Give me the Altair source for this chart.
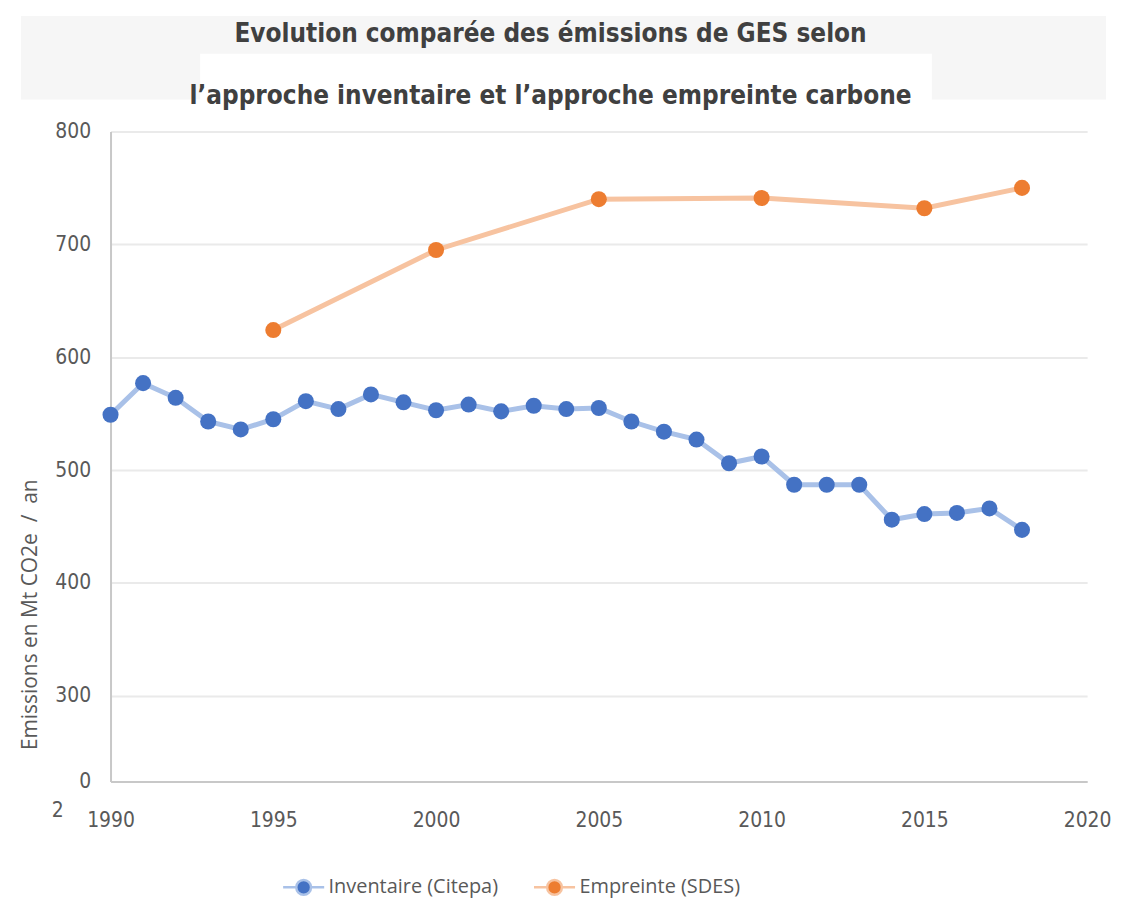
import altair as alt
import pandas as pd

years_inv = list(range(1990, 2019))
inventaire = [549, 577, 564, 543, 536, 545, 561, 554, 567, 560, 553, 558, 552, 557, 554,
              555, 543, 534, 527, 506, 512, 487, 487, 487, 456, 461, 462, 466, 447]
years_emp = [1995, 2000, 2005, 2010, 2015, 2018]
empreinte = [624, 695, 740, 741, 732, 750]

series_names = ["Inventaire (Citepa)", "Empreinte (SDES)"]
dark_colors = ["#4472C4", "#ED7D31"]
light_colors = ["#A9C1E8", "#F7C3A0"]
y_ticks = [224, 300, 400, 500, 600, 700, 800]
x_ticks = [1990, 1995, 2000, 2005, 2010, 2015, 2020]
title_lines = ["Evolution comparée des émissions de GES selon",
               "l’approche inventaire et l’approche empreinte carbone"]
y_title = "Emissions en Mt CO2e\u00a0\u00a0/\u00a0\u00a0an"

df = pd.concat([
    pd.DataFrame({"annee": years_inv, "valeur": inventaire, "serie": series_names[0]}),
    pd.DataFrame({"annee": years_emp, "valeur": empreinte, "serie": series_names[1]}),
])

COND_FONT = "DejaVu Sans Condensed, sans-serif"
TEXT_FONT = "Open Sans, sans-serif"
GRAY = "#595959"

x_enc = alt.X("annee:Q", scale=alt.Scale(domain=[1990, 2020], nice=False, zero=False),
              axis=alt.Axis(values=x_ticks, format="d", title=None, grid=False, ticks=False,
                            labelFont=COND_FONT, labelFontSize=21, labelColor=GRAY,
                            labelPadding=28, domainColor="#C8C8C8", domainWidth=2,
                            labelFlush=False))
y_enc = alt.Y("valeur:Q", scale=alt.Scale(domain=[224, 800], nice=False, zero=False),
              axis=alt.Axis(values=y_ticks, title=y_title,
                            labelExpr="datum.value < 250 ? '0' : datum.label",
                            grid=True, gridColor="#EAEAEA", gridWidth=2, ticks=False,
                            labelFont=COND_FONT, labelFontSize=21, labelColor=GRAY,
                            labelPadding=20, domainColor="#C8C8C8", domainWidth=2,
                            titleFont=TEXT_FONT, titleFontSize=21, titleFontWeight="normal",
                            titleColor=GRAY, titleX=-80, titleY=485, titleBaseline="middle",
                            titleAngle=270))

one = pd.DataFrame({"k": [0]})
band = alt.Chart(one).mark_rect(color="#F6F6F6").encode(
    x=alt.value(-90), x2=alt.value(1000), y=alt.value(-116), y2=alt.value(-32))
white_box = alt.Chart(one).mark_rect(color="#FFFFFF").encode(
    x=alt.value(90), x2=alt.value(825), y=alt.value(-78), y2=alt.value(-5))
title1 = alt.Chart(one).mark_text(text=title_lines[0], font=COND_FONT, fontSize=26,
                                  fontWeight="bold", color="#404040", align="center",
                                  baseline="alphabetic").encode(
    x=alt.value(442), y=alt.value(-90))
title2 = alt.Chart(one).mark_text(text=title_lines[1], font=COND_FONT, fontSize=26,
                                  fontWeight="bold", color="#404040", align="center",
                                  baseline="alphabetic").encode(
    x=alt.value(442), y=alt.value(-28))
stray = alt.Chart(one).mark_text(text="2", font=COND_FONT, fontSize=21, color=GRAY).encode(
    x=alt.value(-53), y=alt.value(683))

lines = alt.Chart(df).mark_line(strokeWidth=5).encode(
    x=x_enc, y=y_enc,
    color=alt.Color("serie:N", scale=alt.Scale(domain=series_names, range=light_colors), legend=None),
    detail="serie:N")

sym = "M-1,0L-0.38,0M0.38,0L1,0M-0.36,0A0.36,0.36 0 1,0 0.36,0A0.36,0.36 0 1,0 -0.36,0Z"
points = alt.Chart(df).mark_circle(size=260, opacity=1).encode(
    x=x_enc, y=y_enc,
    color=alt.Color("serie:N", scale=alt.Scale(domain=series_names, range=dark_colors),
                    legend=alt.Legend(title=None, orient="none", legendX=172, legendY=737,
                                      direction="horizontal", symbolType=sym, symbolSize=1700,
                                      labelFont=TEXT_FONT, labelFontSize=20, labelColor=GRAY,
                                      labelOffset=3, columnPadding=30, labelLimit=400,
                                      symbolStrokeWidth=2.5, symbolOpacity=1,
                                      symbolStrokeColor={"expr": "datum.label == 'Inventaire (Citepa)' ? '#A9C1E8' : '#F7C3A0'"})))

chart = alt.layer(band, white_box, title1, title2, lines, points, stray).resolve_scale(
    color="independent").properties(
    width=981, height=653,
    padding={"left": 12, "top": 6, "right": 2, "bottom": 0},
).configure_view(stroke=None)

chart.save("out.html", embed_options={"renderer": "svg", "actions": False})
